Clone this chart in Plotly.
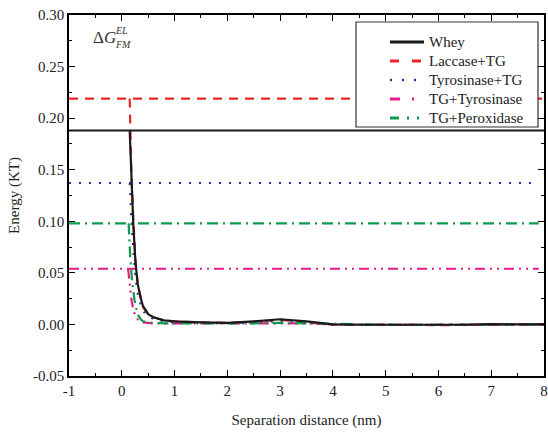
import plotly.graph_objects as go

series_names = ["Whey", "Laccase+TG", "Tyrosinase+TG", "TG+Tyrosinase", "TG+Peroxidase"]
levels = [0.188, 0.219, 0.137, 0.054, 0.098]
level_end = [8, 8, 7.9, 7.9, 7.9]

x_whey = [0.15, 0.18, 0.22, 0.26, 0.30, 0.35, 0.40, 0.50, 0.60, 0.80, 1.0, 1.5, 2.0, 2.5, 3.0, 3.5, 4.0, 4.5, 5.0, 5.5, 6.0, 6.5, 7.0, 7.5, 8.0]
y_whey = [0.188, 0.14, 0.095, 0.06, 0.040, 0.027, 0.018, 0.010, 0.007, 0.004, 0.003, 0.002, 0.0015, 0.003, 0.005, 0.003, 0.0, -0.0003, -0.0003, -0.0003, -0.0006, -0.0003, 0.0002, 0.0002, 0.0]

x_lac = [0.15, 0.18, 0.22, 0.26, 0.30, 0.35, 0.40, 0.50, 0.60, 0.80, 1.0, 1.5, 2.0, 2.5, 3.0, 3.5, 4.0, 4.5, 5.0, 5.5, 6.0, 6.5, 7.0, 7.5, 8.0]
y_lac = [0.219, 0.15, 0.10, 0.062, 0.040, 0.027, 0.017, 0.010, 0.007, 0.004, 0.003, 0.002, 0.0015, 0.0025, 0.0045, 0.002, -0.0003, -0.0005, -0.0003, -0.0003, -0.0008, -0.0003, 0.0002, 0.0002, 0.0]

x_tyr = [0.15, 0.18, 0.22, 0.26, 0.30, 0.35, 0.40, 0.50, 0.60, 0.80, 1.0, 1.5, 2.0, 2.5, 3.0, 3.5, 4.0, 4.5, 5.0, 5.5, 6.0, 6.5, 7.0, 7.5, 8.0]
y_tyr = [0.137, 0.10, 0.07, 0.045, 0.030, 0.020, 0.013, 0.008, 0.005, 0.003, 0.002, 0.0015, 0.001, 0.002, 0.003, 0.002, 0.0, -0.0003, -0.0003, -0.0003, -0.0005, -0.0003, 0.0, 0.0, 0.0]

x_tgt = [0.12, 0.15, 0.18, 0.22, 0.26, 0.30, 0.35, 0.40, 0.50, 0.60, 0.80, 1.0, 1.5, 2.0, 2.5, 3.0, 3.5, 4.0, 4.5, 5.0, 5.5, 6.0, 6.5, 7.0, 7.5, 8.0]
y_tgt = [0.054, 0.04, 0.025, 0.014, 0.008, 0.005, 0.003, 0.002, 0.0015, 0.001, 0.001, 0.001, 0.0008, 0.0005, 0.001, 0.001, 0.001, 0.0, -0.0003, -0.0003, -0.0003, -0.0005, -0.0003, 0.0, 0.0, 0.0]

x_per = [0.13, 0.16, 0.20, 0.24, 0.28, 0.32, 0.36, 0.40, 0.50, 0.60, 0.80, 1.0, 1.5, 2.0, 2.5, 3.0, 3.5, 4.0, 4.5, 5.0, 5.5, 6.0, 6.5, 7.0, 7.5, 8.0]
y_per = [0.098, 0.065, 0.040, 0.024, 0.014, 0.008, 0.005, 0.003, 0.002, 0.0015, 0.001, 0.001, 0.0008, 0.0005, 0.001, 0.0015, 0.001, 0.0, -0.0003, -0.0003, -0.0003, -0.0005, -0.0003, 0.0, 0.0, 0.0]

curves_x = [x_whey, x_lac, x_tyr, x_tgt, x_per]
curves_y = [y_whey, y_lac, y_tyr, y_tgt, y_per]

x_ticks = [-1, 0, 1, 2, 3, 4, 5, 6, 7, 8]
y_ticks = [-0.05, 0.0, 0.05, 0.10, 0.15, 0.20, 0.25, 0.30]

colors = ["#1a1a1a", "#e8252c", "#2b2f9a", "#e8198b", "#0c9b4c"]
dashes = ["solid", "9px,7px", "2px,8px", "10px,5px,2px,5px,2px,5px", "11px,5px,2px,5px"]
legend_dashes = ["solid", "9px,13px", "2px,10px", "10px,12px,2px,20px", "9px,8px,2px,8px,2px,20px"]
widths = [2.2, 2.2, 2.0, 2.2, 2.2]

FIG_W, FIG_H = 548, 433
# plot area in page pixels
PL, PR, PT, PB = 69, 544, 15, 376
PW, PH = PR - PL, PB - PT


def px_x(p):
    return (p - PL) / PW


def px_y(p):
    return (PB - p) / PH


fig = go.Figure()
order = [1, 2, 3, 4, 0]
for i in order:
    xs = [-1, level_end[i], None] + curves_x[i]
    ys = [levels[i], levels[i], None] + curves_y[i]
    fig.add_trace(go.Scatter(
        x=xs, y=ys, mode="lines", name=series_names[i],
        line=dict(color=colors[i], dash=dashes[i], width=widths[i]),
        connectgaps=False, showlegend=False, hoverinfo="skip"))

font = "Liberation Serif, Times New Roman, serif"
axis_common = dict(
    showline=True, linecolor="black", linewidth=1.5, mirror="allticks",
    ticks="inside", ticklen=6, tickwidth=1.3, tickcolor="black",
    showgrid=False, zeroline=False, automargin=False, ticklabeloverflow="allow",
    tickfont=dict(family=font, size=15, color="#222"),
)
fig.update_xaxes(range=[-1, 8], tickvals=x_ticks, ticktext=[str(v) for v in x_ticks],
                 minor=dict(ticks="inside", ticklen=3, tickwidth=1.2, tickcolor="black", dtick=0.5, tick0=-1),
                 title=dict(text="Separation distance (nm)", font=dict(family=font, size=15, color="#222"), standoff=17),
                 **axis_common)
fig.update_yaxes(range=[-0.05, 0.30], tickvals=y_ticks, ticktext=[f"{v:.2f}" for v in y_ticks],
                 minor=dict(ticks="inside", ticklen=3, tickwidth=1.2, tickcolor="black", dtick=0.025, tick0=0),
                 title=dict(text="Energy (KT)", font=dict(family=font, size=15, color="#222"), standoff=10),
                 **axis_common)

fig.add_annotation(x=px_x(91), y=px_y(38), xref="paper", yref="paper", xanchor="left", yanchor="middle",
                   text="Δ<i>G</i>", showarrow=False, font=dict(family=font, size=17, color="#333"))
fig.add_annotation(x=px_x(113), y=px_y(30), xref="paper", yref="paper", xanchor="left", yanchor="middle",
                   text="<i>EL</i>", showarrow=False, font=dict(family=font, size=10, color="#333"))
fig.add_annotation(x=px_x(113), y=px_y(45), xref="paper", yref="paper", xanchor="left", yanchor="middle",
                   text="<i>FM</i>", showarrow=False, font=dict(family=font, size=10, color="#333"))

# legend box
fig.add_shape(type="rect", xref="paper", yref="paper", layer="above",
              x0=px_x(356), x1=px_x(538), y0=px_y(127), y1=px_y(22),
              fillcolor="white", line=dict(color="#333", width=1.2))
ROW0, ROWSTEP = 42, 19
for k, name in enumerate(series_names):
    yy = px_y(ROW0 + ROWSTEP * k)
    fig.add_shape(type="line", xref="paper", yref="paper", layer="above",
                  x0=px_x(390), x1=px_x(424), y0=yy, y1=yy,
                  line=dict(color=colors[k], dash=legend_dashes[k], width=widths[k] + 0.6))
    fig.add_annotation(x=px_x(427), y=yy, xref="paper", yref="paper", xanchor="left", yanchor="middle",
                       text=name, showarrow=False, font=dict(family=font, size=15, color="#222"))

fig.update_layout(
    width=FIG_W, height=FIG_H,
    margin=dict(l=PL, r=FIG_W - PR, t=PT, b=FIG_H - PB),
    paper_bgcolor="white", plot_bgcolor="white",
    font=dict(family=font, size=15, color="#222"),
    showlegend=False,
)

# remove the default 8px page margin so the figure sits at the window origin
fig.write_html("out.html", config={"displayModeBar": False},
               post_script="document.body.style.margin='0';document.body.style.overflow='hidden';")
